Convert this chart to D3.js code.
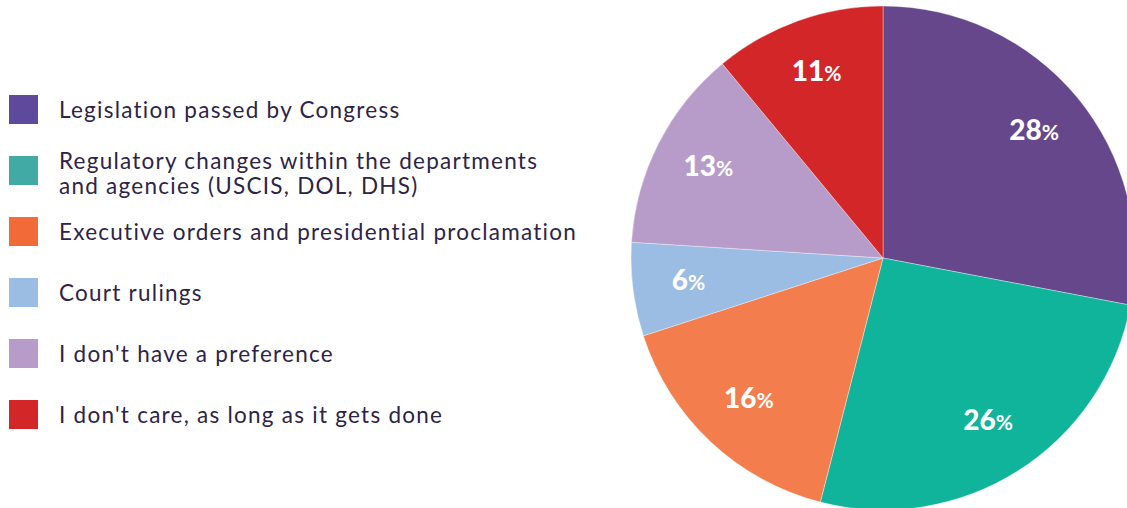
<!DOCTYPE html>
<html>
<head>
<meta charset="utf-8">
<script src="https://cdn.jsdelivr.net/npm/d3@7/dist/d3.min.js"></script>
<style>
  html, body { margin: 0; padding: 0; background: #fff; }
  svg { display: block; }
</style>
</head>
<body>
<svg id="chart" width="1127" height="508"></svg>
<script>
// Survey answers: preferred route for immigration change
const categories = [
  "Legislation passed by Congress",
  "Regulatory changes within the departments\nand agencies (USCIS, DOL, DHS)",
  "Executive orders and presidential proclamation",
  "Court rulings",
  "I don't have a preference",
  "I don't care, as long as it gets done"
];
const values = [28, 26, 16, 6, 13, 11];
const sliceColors = ["#66478c", "#10b49a", "#f37d4c", "#9bbde3", "#b79cc9", "#d22629"];
const legendColors = ["#5d4a9c", "#42aaa5", "#f26a37", "#9bbde3", "#b79cc9", "#d22629"];

const svg = d3.select("#chart");

// ---- pie ----
const cx = 883, cy = 258, R = 252;
const pie = d3.pie().sort(null).value(d => d.v);
const arcs = pie(values.map((v, i) => ({ v, i })));
const arc = d3.arc().innerRadius(0).outerRadius(R);

const g = svg.append("g").attr("transform", `translate(${cx},${cy})`);
g.selectAll("path.slice")
  .data(arcs)
  .join("path")
  .attr("class", "slice")
  .attr("d", arc)
  .attr("fill", d => sliceColors[d.data.i])
  .attr("stroke", "#ffffff")
  .attr("stroke-width", 0.6)
  .attr("stroke-opacity", 0.6);

// percentage labels at each slice's centroid ring
const labelArc = d3.arc().innerRadius(196).outerRadius(196);
const lab = g.selectAll("text.pct")
  .data(arcs)
  .join("text")
  .attr("class", "pct")
  .attr("transform", d => {
    const [x, y] = labelArc.centroid(d);
    return `translate(${x},${y + 7})`;
  })
  .attr("text-anchor", "middle")
  .attr("fill", "#ffffff")
  .attr("font-family", "Lato, 'Open Sans', sans-serif")
  .attr("font-weight", 900);
lab.append("tspan").attr("font-size", 28).text(d => d.data.v);
lab.append("tspan").attr("font-size", 21).attr("font-weight", 700).text("%");

// ---- legend ----
const legend = svg.append("g").attr("transform", "translate(9,95)");
const rowH = 61, box = 29;
const rows = legend.selectAll("g.row")
  .data(categories)
  .join("g")
  .attr("class", "row")
  .attr("transform", (d, i) => `translate(0,${i * rowH})`);
rows.append("rect")
  .attr("width", box).attr("height", box)
  .attr("fill", (d, i) => legendColors[i]);
rows.each(function (d) {
  const lines = d.split("\n");
  const lh = 25;
  const y0 = 23 - (lines.length - 1) * 10.5;
  lines.forEach((ln, k) => {
    d3.select(this).append("text")
      .attr("x", 50)
      .attr("y", y0 + k * lh)
      .attr("fill", "#2d2446")
      .attr("font-family", "Lato, 'Open Sans', sans-serif")
      .attr("font-size", 22.5)
      .attr("letter-spacing", 1.25)
      .text(ln);
  });
});
</script>
</body>
</html>
